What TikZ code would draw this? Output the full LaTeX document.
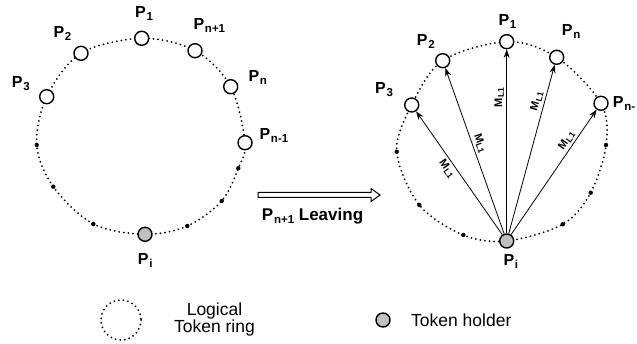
\documentclass[tikz,border=0pt]{standalone}
\usepackage{fontspec}
\setmainfont{Liberation Sans}
\usetikzlibrary{arrows.meta}
\definecolor{tokengray}{RGB}{192,192,192}
\newcommand{\plab}[1]{P\kern0.8pt\raisebox{-3pt}{\fontsize{11.5}{11.5}\selectfont #1}}
\newcommand{\mlabtext}{M\kern0.6pt\raisebox{-1.8pt}{\fontsize{8.5}{8.5}\selectfont L1}}
\begin{document}
\begin{tikzpicture}[x=1pt,y=-1pt,
  pnode/.style={circle,draw=black,line width=1.4pt,fill=white,minimum size=14pt,inner sep=0pt},
  holder/.style={pnode,fill=tokengray},
  ringdot/.style={circle,fill=black,inner sep=0pt,minimum size=4.4pt},
  tokenring/.style={line width=2pt,line cap=round,dash pattern=on 0pt off 4.6pt},
  plabel/.style={font=\fontsize{16}{16}\selectfont\bfseries,inner sep=0pt,anchor=base west},
  msgarrow/.style={-{Stealth[length=8.5pt,width=6pt]},line width=0.8pt},
  mlab/.style={font=\fontsize{11}{11}\selectfont\bfseries,inner sep=2.5pt,sloped},
  legendtext/.style={font=\fontsize{17.5}{17}\selectfont,inner sep=0pt}]
\useasboundingbox (0,0) rectangle (637,344);

% ---------- left ring ----------
\draw[tokenring] plot[smooth cycle,tension=0.55] coordinates {
  (141.7,38.3) (195,50.7) (230.7,86.7) (245,142.7) (238.3,168.3) (221.7,201)
  (187.3,226) (145,234.3) (93.3,224) (53.3,186.7) (36.7,145) (46.7,96.7) (81,53.3)};
\node[ringdot] (ld1) at (238.3,168.3) {};
\node[ringdot] (ld2) at (221.7,201) {};
\node[ringdot] (ld3) at (187.3,226) {};
\node[ringdot] (ld4) at (93.3,224) {};
\node[ringdot] (ld5) at (53.3,186.7) {};
\node[ringdot] (ld6) at (36.7,145) {};
\node[pnode] (lP1) at (141.7,38.3) {};
\node[pnode] (lPn1) at (195,50.7) {};
\node[pnode] (lPn) at (230.7,86.7) {};
\node[pnode] (lPnm) at (245,142.7) {};
\node[holder] (lPi) at (145,234.3) {};
\node[pnode] (lP3) at (46.7,96.7) {};
\node[pnode] (lP2) at (81,53.3) {};
\node[plabel] (tlP1) at (135,17.3) {\plab{1}};
\node[plabel] (tlP2) at (53.3,37.3) {\plab{2}};
\node[plabel] (tlP3) at (11.7,87.3) {\plab{3}};
\node[plabel] (tlPn1) at (193.3,29.3) {\plab{n+1}};
\node[plabel] (tlPn) at (248.3,81.7) {\plab{n}};
\node[plabel] (tlPnm) at (259.3,139.3) {\plab{n-1}};
\node[plabel] (tlPi) at (137.7,265) {\plab{i}};

% ---------- transition arrow ----------
\draw[line width=1pt,fill=white] (258,192.5) -- (371,192.5) -- (371,188.5) -- (380,195)
  -- (371,201.5) -- (371,197.5) -- (258,197.5) -- cycle;
\node[plabel,font=\fontsize{17}{17}\selectfont\bfseries] (leave) at (261.7,220.7) {\plab{n+1} Leaving};

% ---------- right ring ----------
\draw[tokenring] plot[smooth cycle,tension=0.55] coordinates {
  (506.7,41.7) (556.7,57.3) (601,103.3) (606,145) (590.7,192.7) (562.7,224.3)
  (506.7,241) (463.3,235) (419.3,205) (396.7,151.7) (411.7,105) (442.7,60.7)};
\node[ringdot] (rd1) at (606,145) {};
\node[ringdot] (rd2) at (590.7,192.7) {};
\node[ringdot] (rd3) at (562.7,224.3) {};
\node[ringdot] (rd4) at (463.3,235) {};
\node[ringdot] (rd5) at (419.3,205) {};
\node[ringdot] (rd6) at (396.7,151.7) {};
\node[pnode] (rP1) at (506.7,41.7) {};
\node[pnode] (rPn) at (556.7,57.3) {};
\node[pnode] (rPnm) at (601,103.3) {};
\node[holder] (rPi) at (506.7,241) {};
\node[pnode] (rP3) at (411.7,105) {};
\node[pnode] (rP2) at (442.7,60.7) {};
\node[plabel] (trP1) at (498.3,26) {\plab{1}};
\node[plabel] (trP2) at (416.7,46) {\plab{2}};
\node[plabel] (trP3) at (375,93.3) {\plab{3}};
\node[plabel] (trPn) at (561.7,36) {\plab{n}};
\node[plabel] (trPnm) at (612.7,107.7) {\plab{n-}};
\node[plabel] (trPi) at (503.3,266) {\plab{i}};

\draw[msgarrow] (rPi) -- node[mlab,below,pos=0.57] {\mlabtext} (rP3);
\draw[msgarrow] (rPi) -- node[mlab,above,pos=0.53] {\mlabtext} (rP2);
\draw[msgarrow] (rPi) -- node[mlab,above,pos=0.74] {\mlabtext} (rP1);
\draw[msgarrow] (rPi) -- node[mlab,above,pos=0.77] {\mlabtext} (rPn);
\draw[msgarrow] (rPi) -- node[mlab,above,pos=0.72] {\mlabtext} (rPnm);

% ---------- legend ----------
\draw[tokenring] (121,320) circle[radius=20];
\node[legendtext,align=center] (lgring) at (214.5,319) {Logical\\Token ring};
\node[holder] (lgholder) at (383,320) {};
\node[legendtext,anchor=west] (lgholdertext) at (411,320) {Token holder};
\end{tikzpicture}
\end{document}
